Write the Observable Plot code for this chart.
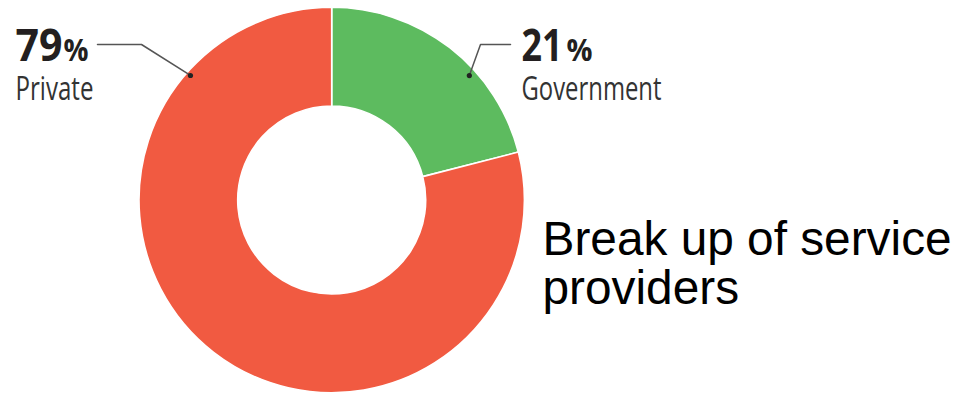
<!DOCTYPE html>
<html>
<head>
<meta charset="utf-8">
<script src="https://cdn.jsdelivr.net/npm/d3@7"></script>
<script src="https://cdn.jsdelivr.net/npm/@observablehq/plot@0.6"></script>
<style>
  html, body { margin: 0; padding: 0; background: #fff; }
  #chart svg { display: block; }
</style>
</head>
<body>
<div id="chart"></div>
<script>
// ---- data ----
const categories = ["Government", "Private"];
const shares = [21, 79];
const sliceColors = ["#5dbb5f", "#f15a41"];
const chartTitle = "Break up of service\nproviders";

// ---- layout ----
const W = 972, H = 397;
const cx = 331.7, cy = 200, outerR = 192.7, innerR = 94;
const labelFont = "'Open Sans', 'Noto Sans', sans-serif";

const color = Plot.scale({color: {type: "ordinal", domain: categories, range: sliceColors}});

const pie = d3.pie().sort(null).value(d => d.value);
const slices = pie(categories.map((c, i) => ({category: c, value: shares[i]})));
const arc = d3.arc().innerRadius(innerR).outerRadius(outerR);

// leader anchors (radians from 12 o'clock, clockwise) and label boxes (layout only)
const leaderSpec = [
  {category: "Government", angle: 0.832, r: 185.5, elbowX: 480, endX: 510, lineY: 44,
   textX: 521, numW: 41, pctX: 566, pctW: 26, nameW: 140},
  {category: "Private", angle: -0.848, r: 189, elbowX: 141, endX: 97, lineY: 44,
   textX: 15, numW: 47, pctX: 63, pctW: 25, nameW: 78}
];
const leaders = leaderSpec.map(s => {
  const i = categories.indexOf(s.category);
  return {
    ...s,
    pct: String(shares[i]),
    dotX: cx + s.r * Math.sin(s.angle),
    dotY: cy - s.r * Math.cos(s.angle)
  };
});
const leaderLines = leaders.flatMap(l => [
  {key: l.category, x: l.dotX, y: l.dotY},
  {key: l.category, x: l.elbowX, y: l.lineY},
  {key: l.category, x: l.endX, y: l.lineY}
]);

function donut(index, scales, values, dimensions, context) {
  const g = d3.create("svg:g");
  g.selectAll("path")
    .data(slices)
    .join("path")
    .attr("transform", `translate(${scales.x(cx)},${scales.y(cy)})`)
    .attr("d", arc)
    .attr("fill", d => color.apply(d.data.category))
    .attr("stroke", "#ffffff")
    .attr("stroke-width", 1.6)
    .attr("stroke-linejoin", "round");
  return g.node();
}

const plot = Plot.plot({
  width: W,
  height: H,
  margin: 0,
  x: {type: "identity", axis: null},
  y: {type: "identity", axis: null},
  marks: [
    donut,
    Plot.line(leaderLines, {x: "x", y: "y", z: "key", stroke: "#555555", strokeWidth: 1.5}),
    Plot.dot(leaders, {x: "dotX", y: "dotY", r: 2.6, fill: "#222222"}),
    // big numbers
    Plot.text(leaders, {
      x: "textX", y: 60, text: "pct",
      textAnchor: "start", lineAnchor: "bottom",
      fontFamily: labelFont, fontWeight: "bold", fontSize: 45, fill: "#231f20"
    }),
    Plot.text(leaders, {
      x: "pctX", y: 60, text: d => "%",
      textAnchor: "start", lineAnchor: "bottom",
      fontFamily: labelFont, fontWeight: "bold", fontSize: 31, fill: "#231f20"
    }),
    // category names
    Plot.text(leaders, {
      x: "textX", y: 99, text: "category",
      textAnchor: "start", lineAnchor: "bottom",
      fontFamily: labelFont, fontSize: 32, fill: "#333333"
    }),
    // title at right
    Plot.text([chartTitle], {
      x: 542, y: 303, text: d => d,
      textAnchor: "start", lineAnchor: "bottom", lineHeight: 1.02,
      fontFamily: "'Liberation Sans', Arial, sans-serif", fontSize: 47.8, fill: "#000000"
    })
  ]
});

// condense the label glyphs to the widths of the reference's condensed typeface
const textGroups = d3.select(plot).selectAll('g[aria-label="text"]').nodes();
const widthKeys = ["numW", "pctW", "nameW"];
widthKeys.forEach((k, gi) => {
  d3.select(textGroups[gi]).selectAll("text").each(function (d, j) {
    this.setAttribute("textLength", leaders[j][k]);
    this.setAttribute("lengthAdjust", "spacingAndGlyphs");
  });
});
document.getElementById("chart").appendChild(plot);
</script>
</body>
</html>
